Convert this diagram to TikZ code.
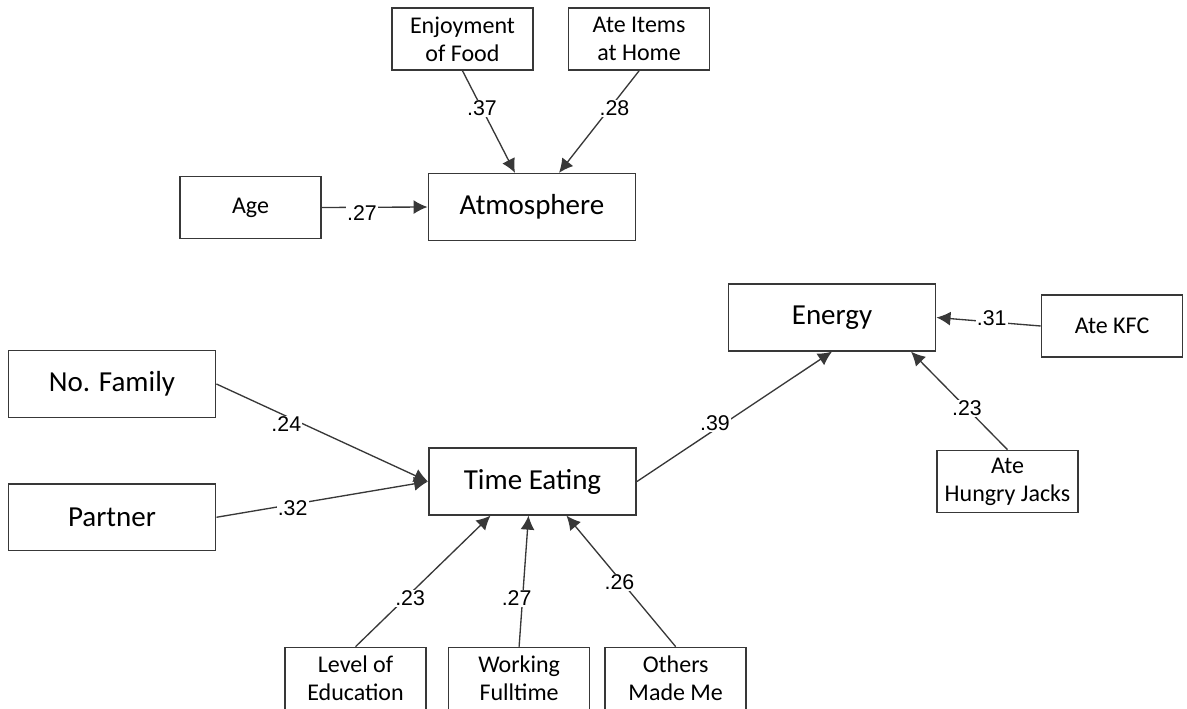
\documentclass[tikz,border=0pt]{standalone}
\usepackage{fontspec}
\setmainfont{Carlito}
\newfontfamily\lblfont{Liberation Sans}
\usetikzlibrary{positioning,calc,arrows.meta}
\definecolor{edgegray}{HTML}{383838}

\begin{document}
\begin{tikzpicture}[x=0.75pt, y=-0.75pt,
  every node/.style={align=center},
  var/.style={rectangle, draw=edgegray, line width=1.2pt, fill=white, minimum width=105.75pt, minimum height=46.5pt, inner sep=0pt, font=\fontsize{18}{21}\selectfont},
  bigvar/.style={var, minimum width=155.5pt, minimum height=50pt, font=\fontsize{21.75}{26}\selectfont},
  arr/.style={-{Latex[length=10.5pt,width=10.5pt]}, draw=edgegray, line width=1pt},
  coef/.style={fill=white, inner sep=0.8pt, font=\lblfont\fontsize{16}{18}\selectfont}
]
\useasboundingbox (0,0) rectangle (1187,709);
% Top: predictors of Atmosphere
\node[var] (enj) at (462.5,39) {Enjoyment\\of Food};
\node[var, right=25.5pt of enj] (home) {Ate Items\\at Home};
\node[bigvar] (atm) at (532,207) {Atmosphere};
\node[var] (age) at (250.5,207.5) {Age};
% Right: Energy and its predictors
\node[bigvar] (energy) at (832,317.5) {Energy};
\node[var] (kfc) at (1112,326) {Ate KFC};
\node[var] (hj) at (1007.5,481.5) {Ate\\Hungry Jacks};
% Middle: Time Eating with left predictors
\node[bigvar] (fam) at (112,384) {No. Family};
\node[bigvar, below=48.75pt of fam] (partner) {Partner};
\node[bigvar] (time) at (532.5,481.5) {Time Eating};
% Bottom row
\node[var] (edu) at (355.5,678.5) {Level of\\Education};
\node[var, right=15.75pt of edu] (work) {Working\\Fulltime};
\node[var, right=10.5pt of work] (others) {Others\\Made Me};
% Arrows
\draw[arr] (enj.south) -- node[coef, pos=0.37] {.37} ($(atm.north)+(-17,0)$);
\draw[arr] (home.south) -- node[coef, pos=0.37, xshift=3.75pt] {.28} ($(atm.north)+(27,0)$);
\draw[arr] (age.east) -- node[coef, pos=0.38, yshift=-4pt] {.27} (atm.west);
\draw[arr] (fam.east) -- node[coef, pos=0.33, yshift=-6pt] {.24} (time.west);
\draw[arr] (partner.east) -- node[coef, pos=0.36, yshift=-3pt] {.32} (time.west);
\draw[arr] (time.east) -- node[coef, pos=0.40, yshift=5pt] {.39} (energy.south);
\draw[arr] (kfc.west) -- node[coef, pos=0.47, yshift=3pt] {.31} (energy.east);
\draw[arr] (hj.north) -- node[coef, pos=0.42] {.23} ($(energy.south)+(79,0)$);
\draw[arr] (edu.north) -- node[coef, pos=0.37, xshift=3.5pt] {.23} ($(time.south)+(-42,0)$);
\draw[arr] (work.north) -- node[coef, pos=0.37, xshift=-4.5pt] {.27} ($(time.south)+(-4,0)$);
\draw[arr] (others.north) -- node[coef, pos=0.49, xshift=-2pt] {.26} ($(time.south)+(34,0)$);
\end{tikzpicture}
\end{document}
